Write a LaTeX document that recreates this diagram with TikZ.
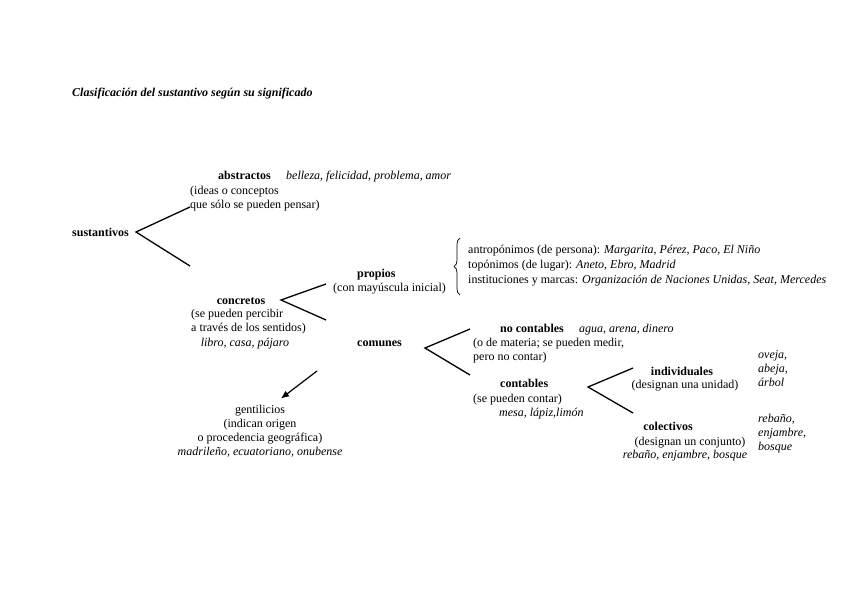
\documentclass[tikz,border=0pt]{standalone}
\usepackage{fontspec}
\setmainfont{Liberation Serif}
\usetikzlibrary{arrows.meta,decorations.pathreplacing}

\tikzset{
  txt/.style={inner sep=0pt, anchor=base west, font=\fontsize{12}{14}\selectfont},
  ctxt/.style={txt, anchor=base},
  tit/.style={txt, font=\fontsize{12}{14}\selectfont\bfseries\itshape},
  rama/.style={line width=1.3pt},
}

\begin{document}
\begin{tikzpicture}[x=1pt,y=-1pt]
\useasboundingbox[fill=white] (0,0) rectangle (848,599);

\node[tit] (titulo) at (72,97) {Clasificación del sustantivo según su significado};

% primer nivel
\node[txt] (sust) at (72,236) {\textbf{sustantivos}};
\node[txt] (abs) at (218,179) {\textbf{abstractos}};
\node[txt] (absej) at (286,179) {\itshape belleza, felicidad, problema, amor};
\node[txt, align=left] (absd) at (190,208) {(ideas o conceptos\\que sólo se pueden pensar)};

\coordinate (v1) at (136,232);
\coordinate (v1a) at (190,207);
\coordinate (v1b) at (190,266);
\draw[rama] (v1a) -- (v1) -- (v1b);

% concretos
\node[ctxt] (conc) at (241,304) {\textbf{concretos}};
\node[txt, align=left] (concd) at (191,331) {(se pueden percibir\\a través de los sentidos)};
\node[ctxt] (concej) at (245,346) {\itshape libro, casa, pájaro};

\coordinate (v2) at (281,300);
\coordinate (v2a) at (326,284);
\coordinate (v2b) at (326,320);
\draw[rama] (v2a) -- (v2) -- (v2b);

% propios
\node[txt] (prop) at (357,277) {\textbf{propios}};
\node[txt] (propd) at (333,291) {(con mayúscula inicial)};
\coordinate (llA) at (460,295);
\coordinate (llB) at (460,238);
\draw[line width=0.7pt, decorate, decoration={brace, amplitude=6pt}] (llA) -- (llB);
\node[txt, align=left] (propej) at (468,283) {antropónimos (de persona): \textit{Margarita}, \textit{Pérez}, \textit{Paco}, \textit{El Niño}\\[1pt]
  topónimos (de lugar): \textit{Aneto}, \textit{Ebro}, \textit{Madrid}\\[1pt]
  instituciones y marcas: \textit{Organización de Naciones Unidas}, \textit{Seat}, \textit{Mercedes}};

% comunes
\node[txt] (com) at (357,346) {\textbf{comunes}};
\coordinate (v3) at (425,348);
\coordinate (v3a) at (470,329);
\coordinate (v3b) at (470,375);
\draw[rama] (v3a) -- (v3) -- (v3b);

\node[txt] (nocont) at (500,332) {\textbf{no contables}};
\node[txt] (nocontej) at (579,332) {\itshape agua, arena, dinero};
\node[txt, align=left] (nocontd) at (473,360) {(o de materia; se pueden medir,\\pero no contar)};

\node[txt] (cont) at (500,387) {\textbf{contables}};
\node[txt] (contd) at (473,402) {(se pueden contar)};
\node[txt] (contej) at (499,416) {\itshape mesa, lápiz,limón};

\coordinate (v4) at (588,387);
\coordinate (v4a) at (633,368);
\coordinate (v4b) at (633,413);
\draw[rama] (v4a) -- (v4) -- (v4b);

\node[ctxt] (indiv) at (682,375) {\textbf{individuales}};
\node[ctxt] (indivd) at (685,388) {(designan una unidad)};
\node[txt, align=left] (indivej) at (758,386) {\itshape oveja,\\\itshape abeja,\\\itshape árbol};

\node[ctxt] (colec) at (668,430) {\textbf{colectivos}};
\node[ctxt] (colecd) at (690,445) {(designan un conjunto)};
\node[ctxt] (colecej) at (685,458) {\itshape rebaño, enjambre, bosque};
\node[txt, align=left] (colecej2) at (758,450) {\itshape rebaño,\\\itshape enjambre,\\\itshape bosque};

% gentilicios
\coordinate (fl) at (317,371);
\node[ctxt, align=center] (gent) at (260,455) {gentilicios\\(indican origen\\o procedencia geográfica)\\\itshape madrileño, ecuatoriano, onubense};
\draw[line width=1.2pt, -{Latex[length=8pt,width=7pt]}] (fl) -- ([shift={(21,-6)}]gent.north);
\end{tikzpicture}
\end{document}
